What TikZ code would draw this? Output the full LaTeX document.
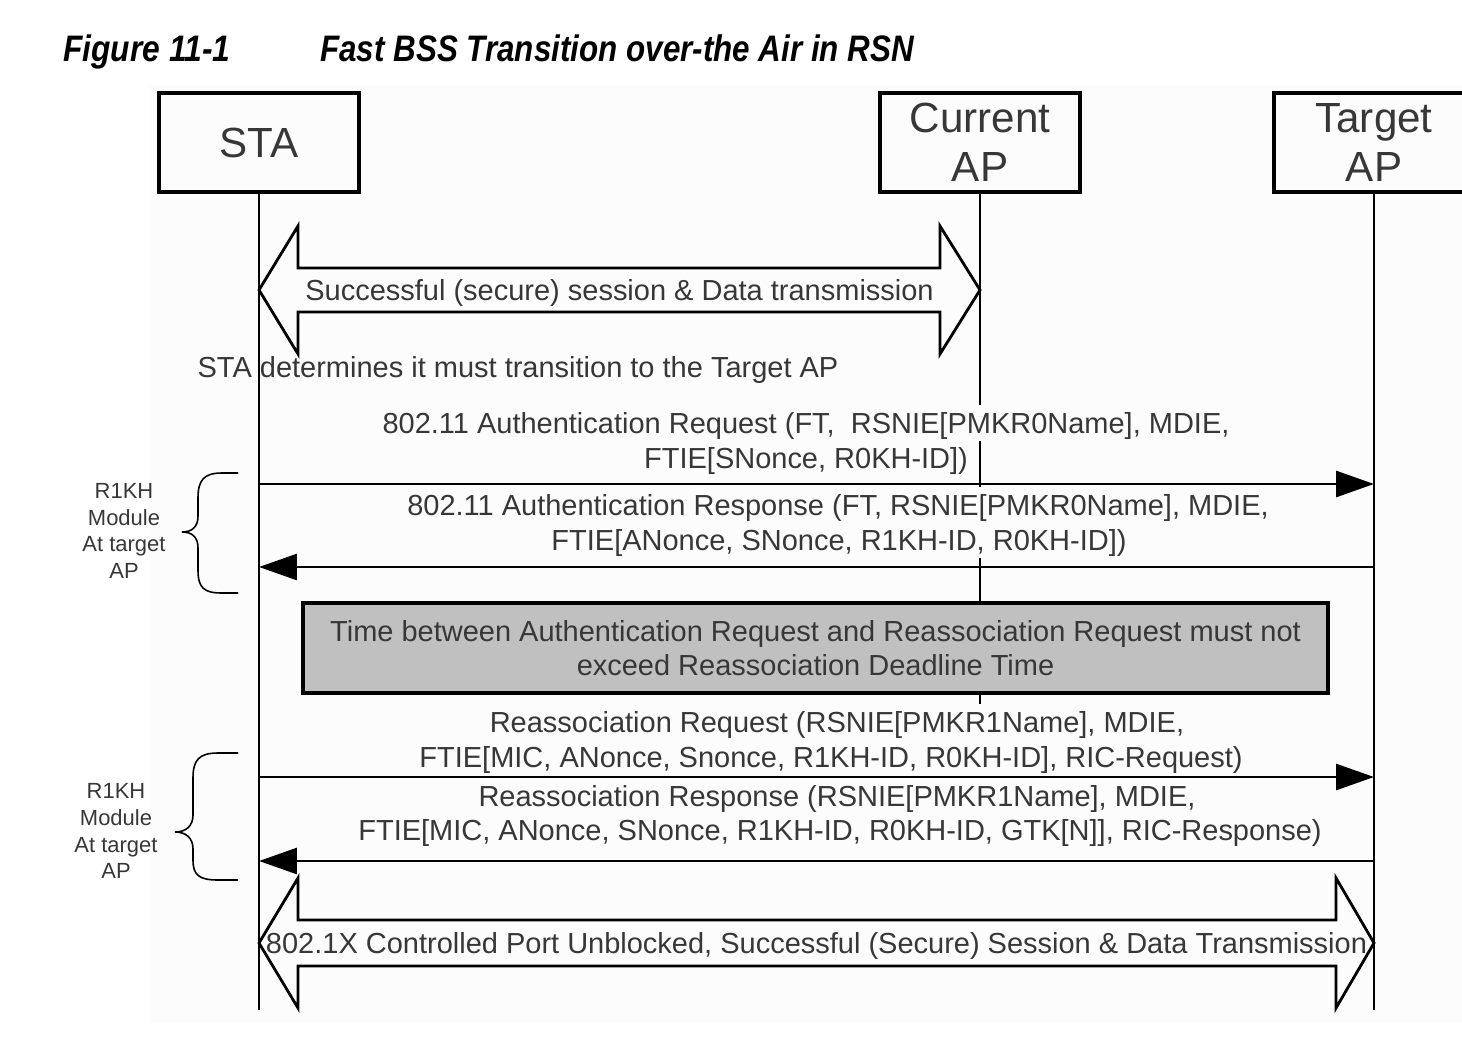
\documentclass[tikz,border=0pt]{standalone}
\usepackage{fontspec}
\setmainfont{Liberation Sans}
\usetikzlibrary{arrows.meta,calc,positioning}

\definecolor{boxgray}{RGB}{192,192,192}
\definecolor{paper}{RGB}{252,252,252}
\definecolor{ink}{RGB}{55,55,55}

\tikzset{
  actor/.style={draw,line width=2pt,minimum width=4cm,minimum height=1.98cm,
    align=center,font=\fontsize{24}{28}\selectfont,text=ink,inner sep=0pt},
  life/.style={line width=1.6pt},
  msg/.style={line width=1.6pt,-{Triangle[length=0.76cm,width=0.52cm]}},
  lbl/.style={font=\fontsize{16.5}{19.8}\selectfont,text=ink,inner xsep=2pt,
    inner ysep=4.5pt,text height=12pt,text depth=0pt},
  hide/.style={fill=paper},
  bigarrow/.style={line width=1.6pt,line join=miter},
  brace/.style={line width=0.9pt},
  note/.style={font=\fontsize{12.5}{15.3}\selectfont,text=ink,align=center},
  title/.style={font=\fontsize{21}{25}\selectfont\bfseries\itshape,inner sep=0pt}
}

\begin{document}
\begin{tikzpicture}[x=0.02cm,y=-0.02cm]
  \useasboundingbox (0,0) rectangle (1462,1040);
  \clip (0,0) rectangle (1462,1040);
  \fill[paper] (150,85) rectangle (1462,1022);

  % caption
  \node[title,anchor=base west] (fignum) at (63,62) {\scalebox{0.86}[1]{Figure 11-1}};
  \node[title,anchor=base west] (figcap) at (320,62)
    {\scalebox{0.85}[1]{Fast BSS Transition over-the Air in RSN}};

  % the three parties
  \node[actor] (sta) at (259,142.5) {STA};
  \node[actor] (cur) at (980,142.5) {Current\\AP};
  \node[actor] (tgt) at (1374,142.5) {Target\\AP};

  % decision (the lifeline runs over it)
  \node[lbl] (decide) at (518,367) {STA determines it must transition to the Target AP};

  % lifelines
  \coordinate (staend) at (sta.south |- 0,1010);
  \coordinate (curend) at (cur.south |- 0,712);
  \coordinate (tgtend) at (tgt.south |- 0,1010);
  \draw[life] (sta.south) -- (staend);
  \draw[life] (cur.south) -- (curend);
  \draw[life] (tgt.south) -- (tgtend);

  % old session with the current AP
  \coordinate (ses1l) at (sta.south |- 0,290);
  \coordinate (ses1r) at (cur.south |- 0,290);
  \draw[bigarrow] (ses1l) -- ++(39,-64) -- ++(0,42) -- ($(ses1r)+(-40,-22)$)
    -- ++(0,-42) -- (ses1r) -- ++(-40,64) -- ++(0,-42) -- ($(ses1l)+(39,22)$)
    -- ++(0,42) -- cycle;
  \node[lbl] (ses1) at ($(ses1l)!0.5!(ses1r)$)
    {Successful (secure) session \& Data transmission};

  % authentication
  \node[lbl,hide] (req1a) at (806,423) {802.11 Authentication Request (FT,\ \ RSNIE[PMKR0Name], MDIE,};
  \node[lbl,hide] (req1b) at (806,458) {FTIE[SNonce, R0KH-ID])};
  \node[lbl,hide] (rsp1a) at (838,505) {802.11 Authentication Response (FT, RSNIE[PMKR0Name], MDIE,};
  \node[lbl,hide] (rsp1b) at (839,540) {FTIE[ANonce, SNonce, R1KH-ID, R0KH-ID])};
  \coordinate (req1s) at (sta.south |- 0,484);
  \coordinate (req1t) at (tgt.south |- 0,484);
  \coordinate (rsp1s) at (sta.south |- 0,567);
  \coordinate (rsp1t) at (tgt.south |- 0,567);
  \draw[msg] (req1s) -- (req1t);
  \draw[msg] (rsp1t) -- (rsp1s);

  % deadline
  \node[draw,line width=2pt,fill=boxgray,minimum width=20.5cm,minimum height=1.8cm,
    align=center,font=\fontsize{16.5}{19.3}\selectfont,text=ink] (deadline) at (815.5,648)
    {Time between Authentication Request and Reassociation Request must not\\
     exceed Reassociation Deadline Time};

  % reassociation
  \node[lbl,hide] (req2a) at (837,722) {Reassociation Request (RSNIE[PMKR1Name], MDIE,};
  \node[lbl,hide] (req2b) at (831,757) {FTIE[MIC, ANonce, Snonce, R1KH-ID, R0KH-ID], RIC-Request)};
  \node[lbl,hide] (rsp2a) at (837,796) {Reassociation Response (RSNIE[PMKR1Name], MDIE,};
  \node[lbl,hide] (rsp2b) at (840,830) {FTIE[MIC, ANonce, SNonce, R1KH-ID, R0KH-ID, GTK[N]], RIC-Response)};
  \coordinate (req2s) at (sta.south |- 0,777);
  \coordinate (req2t) at (tgt.south |- 0,777);
  \coordinate (rsp2s) at (sta.south |- 0,861);
  \coordinate (rsp2t) at (tgt.south |- 0,861);
  \draw[msg] (req2s) -- (req2t);
  \draw[msg] (rsp2t) -- (rsp2s);

  % new session with the target AP
  \coordinate (ses2l) at (sta.south |- 0,943);
  \coordinate (ses2r) at (tgt.south |- 0,943);
  \draw[bigarrow] (ses2l) -- ++(39,-65) -- ++(0,42) -- ($(ses2r)+(-38,-23)$)
    -- ++(0,-42) -- (ses2r) -- ++(-38,65) -- ++(0,-42) -- ($(ses2l)+(39,23)$)
    -- ++(0,42) -- cycle;
  \node[lbl] (ses2) at ($(ses2l)!0.5!(ses2r)$)
    {802.1X Controlled Port Unblocked, Successful (Secure) Session \& Data Transmission};

  % R1KH braces
  \draw[brace] (238,473) -- (222,473) .. controls (204,473) and (198,480) .. (198,498)
    -- (198,516) .. controls (198,527) and (192,532) .. (182,532)
    .. controls (192,532) and (198,537) .. (198,548) -- (198,570)
    .. controls (198,588) and (204,593) .. (222,593) -- (238,593);
  \node[note] (r1kh1) at (124,531) {R1KH\\Module\\At target\\AP};
  \draw[brace] (238,753) -- (218,753) .. controls (199,753) and (193,760) .. (193,778)
    -- (193,815) .. controls (193,826) and (186,832) .. (175,832)
    .. controls (186,832) and (193,838) .. (193,849) -- (193,860)
    .. controls (193,875) and (199,880) .. (218,880) -- (238,880);
  \node[note] (r1kh2) at (116,831) {R1KH\\Module\\At target\\AP};
\end{tikzpicture}
\end{document}
